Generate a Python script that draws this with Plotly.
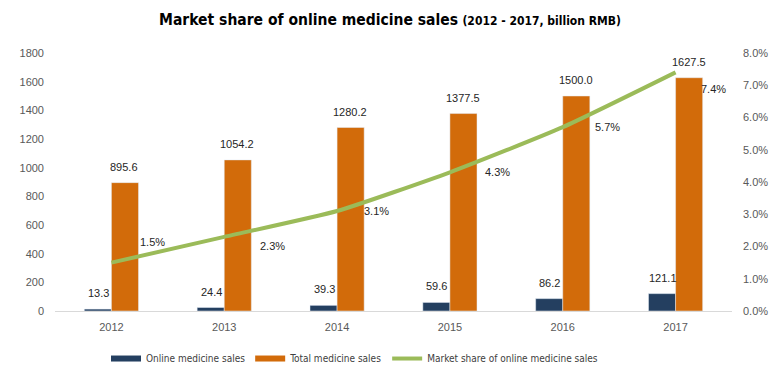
import plotly.graph_objects as go

years = ["2012", "2013", "2014", "2015", "2016", "2017"]
online_sales = [13.3, 24.4, 39.3, 59.6, 86.2, 121.1]
total_sales = [895.6, 1054.2, 1280.2, 1377.5, 1500.0, 1627.5]
market_share = [0.015, 0.023, 0.031, 0.043, 0.057, 0.074]

names = ["Online medicine sales", "Total medicine sales", "Market share of online medicine sales"]
c_dark = "#243F60"
c_orange = "#D26B0A"
c_green = "#9BBB59"

arial = "Liberation Sans, Arial"
cond = "DejaVu Sans Condensed, Liberation Sans"
label_font = dict(family=arial, size=11, color="#262626")
tick_font = dict(family=arial, size=11, color="#595959")

fig = go.Figure()
fig.add_trace(go.Bar(x=years, y=online_sales, name=names[0], marker_color=c_dark, showlegend=False))
fig.add_trace(go.Bar(x=years, y=total_sales, name=names[1], marker_color=c_orange, showlegend=False))
fig.add_trace(go.Scatter(x=years, y=market_share, name=names[2], mode="lines", yaxis="y2",
                         line=dict(color=c_green, width=4, shape="spline", smoothing=0.5),
                         showlegend=False))

# legend entries drawn as wide swatches, like the original
for nm, col, w in [(names[0], c_dark, 6), (names[1], c_orange, 6), (names[2], c_green, 4)]:
    fig.add_trace(go.Scatter(x=[years[0]], y=[None], mode="lines", name=nm,
                             line=dict(color=col, width=w)))

# annotations on a category axis are placed by category index
ann = []
for i, v in enumerate(online_sales):
    ann.append(dict(x=i, y=v, xref="x", yref="y", text=f"{v:.1f}", showarrow=False,
                    xshift=-13, yshift=8, yanchor="bottom", font=label_font))
for i, v in enumerate(total_sales):
    ann.append(dict(x=i, y=v, xref="x", yref="y", text=f"{v:.1f}", showarrow=False,
                    xshift=13, yshift=8, yanchor="bottom", font=label_font))
pct_dy = [21, -9, 0, 0, 0, -17]
pct_dx = [41, 48, 39, 48, 45, 38]
for i, (v, dy, dx) in enumerate(zip(market_share, pct_dy, pct_dx)):
    ann.append(dict(x=i, y=v, xref="x", yref="y2", text=f"{v*100:.1f}%", showarrow=False,
                    xshift=dx, yshift=dy, font=label_font))

# the page body adds an 8px offset, so the figure is drawn 8px smaller
fig.update_layout(
    width=771, height=383,
    margin=dict(l=47, r=47, t=45, b=80),
    paper_bgcolor="white", plot_bgcolor="white",
    barmode="group", bargap=0.52, bargroupgap=0,
    title=dict(
        text="<b>Market share of online medicine sales</b> <b><span style='font-size:12px'>(2012 - 2017, billion RMB)</span></b>",
        x=(390 - 8) / 771, xanchor="center", y=1 - 12 / 383, yanchor="middle",
        font=dict(family=cond, size=15.5, color="#000000")),
    xaxis=dict(type="category", range=[-0.5, 5.5], showline=True, linecolor="#D9D9D9",
               linewidth=1, showgrid=False, ticks="", tickfont=tick_font,
               ticklabelstandoff=6),
    yaxis=dict(range=[0, 1800], dtick=200, showgrid=False, zeroline=False, tickfont=tick_font,
               ticklabelstandoff=10),
    yaxis2=dict(range=[0, 0.08], dtick=0.01, tickformat=".1%", overlaying="y", side="right",
                showgrid=False, zeroline=False, tickfont=tick_font, ticklabelstandoff=10),
    legend=dict(orientation="h", x=51 / 677, xanchor="left", y=-0.128, yanchor="top",
                font=dict(family=cond, size=10, color="#404040"), traceorder="normal"),
    annotations=ann,
)

fig.write_html("out.html")
